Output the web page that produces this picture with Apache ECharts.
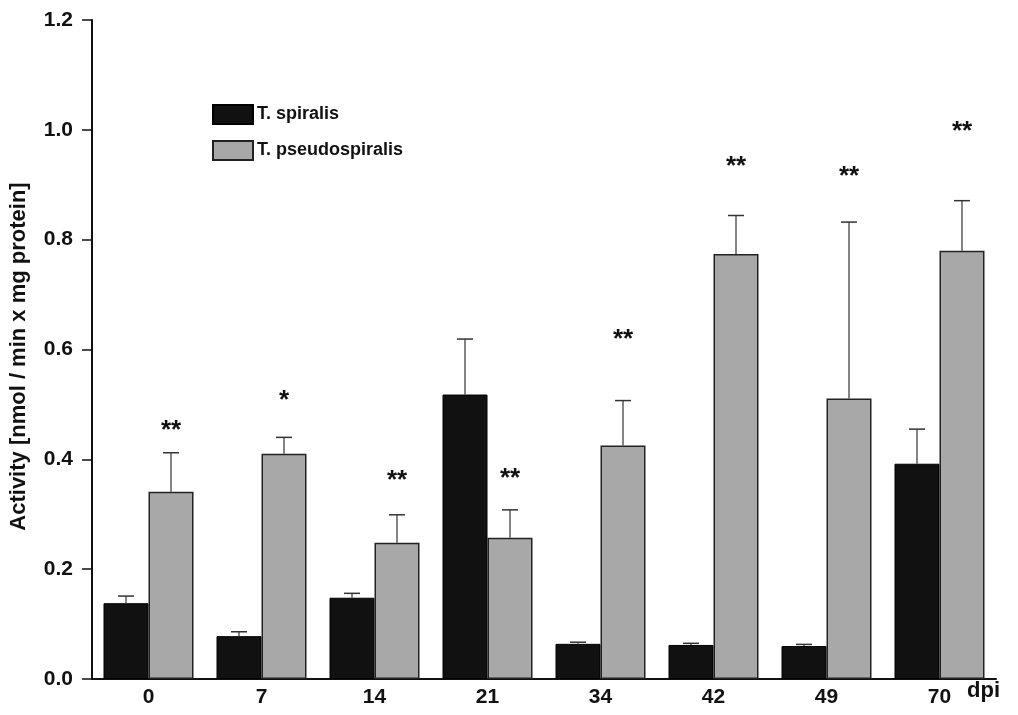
<!DOCTYPE html>
<html>
<head>
<meta charset="utf-8">
<script src="https://cdn.jsdelivr.net/npm/echarts@6/dist/echarts.min.js"></script>
<style>html,body{margin:0;padding:0;background:#fff}#c{width:1018px;height:715px}</style>
</head>
<body>
<div id="c"></div>
<script>
var categories = ['0', '7', '14', '21', '34', '42', '49', '70'];
var spiralis = [0.138, 0.078, 0.148, 0.518, 0.064, 0.062, 0.060, 0.392];
var spiralisErr = [0.013, 0.008, 0.008, 0.101, 0.003, 0.003, 0.003, 0.063];
var pseudo = [0.341, 0.410, 0.248, 0.257, 0.425, 0.774, 0.511, 0.780];
var pseudoErr = [0.071, 0.030, 0.051, 0.051, 0.082, 0.070, 0.321, 0.091];
var starText = ['**', '*', '**', '**', '**', '**', '**', '**'];
var starLevel = [0.464, 0.520, 0.373, 0.377, 0.630, 0.946, 0.928, 1.009];
var yTicks = [0, 0.2, 0.4, 0.6, 0.8, 1.0, 1.2];

var FONT = 'Liberation Sans, Arial, sans-serif';
var BAR_W = 45;

function errData(vals, errs) {
  return vals.map(function (v, i) { return [i, v, v + errs[i]]; });
}
function errRender(offset) {
  return function (params, api) {
    var x = api.value(0);
    var lo = api.coord([x, api.value(1)]);
    var hi = api.coord([x, api.value(2)]);
    var cx = lo[0] + offset;
    var cap = 8;
    return {
      type: 'group',
      children: [
        { type: 'line', shape: { x1: cx, y1: lo[1], x2: cx, y2: hi[1] }, style: { stroke: '#333', lineWidth: 1.2 } },
        { type: 'line', shape: { x1: cx - cap, y1: hi[1], x2: cx + cap, y2: hi[1] }, style: { stroke: '#333', lineWidth: 1.5 } }
      ]
    };
  };
}

var chart = echarts.init(document.getElementById('c'), null, { renderer: 'canvas' });
chart.setOption({
  backgroundColor: '#ffffff',
  animation: false,
  grid: { left: 92, right: 22, top: 20, bottom: 36 },
  legend: {
    orient: 'vertical',
    left: 207, top: 99,
    icon: 'rect',
    itemWidth: 40, itemHeight: 19, itemGap: 15,
    textStyle: { fontFamily: FONT, fontWeight: 'bold', fontSize: 18, color: '#111', padding: [0, 0, 0, -1] },
    data: ['T. spiralis', 'T. pseudospiralis']
  },
  xAxis: {
    type: 'category',
    data: categories,
    axisLine: { lineStyle: { color: '#111', width: 2 } },
    axisTick: { show: false },
    axisLabel: { margin: 8, fontFamily: FONT, fontWeight: 'bold', fontSize: 21, color: '#111' }
  },
  yAxis: {
    type: 'value',
    min: 0, max: 1.2, interval: 0.2,
    name: 'Activity [nmol / min x mg protein]',
    nameLocation: 'middle',
    nameGap: 62,
    nameTextStyle: { fontFamily: FONT, fontWeight: 'bold', fontSize: 22, color: '#111', padding: [0, 14, 0, 0] },
    axisLine: { show: true, lineStyle: { color: '#111', width: 2 } },
    axisTick: { show: true, length: 10, lineStyle: { color: '#111', width: 1.5 } },
    splitLine: { show: false },
    axisLabel: {
      margin: 19, fontFamily: FONT, fontWeight: 'bold', fontSize: 21, color: '#111',
      formatter: function (v) { return v.toFixed(1); }
    }
  },
  graphic: [
    { type: 'text', left: 967, top: 680, style: { text: 'dpi', fontFamily: FONT, fontWeight: 'bold', fontSize: 22, fill: '#111' } }
  ],
  series: [
    {
      name: 'T. spiralis', type: 'bar', data: spiralis, barWidth: BAR_W, barGap: '0%',
      itemStyle: { color: '#111111', borderColor: '#000', borderWidth: 1 }
    },
    {
      name: 'T. pseudospiralis', type: 'bar', data: pseudo, barWidth: BAR_W, barGap: '0%',
      itemStyle: { color: '#a8a8a8', borderColor: '#222', borderWidth: 1.5 }
    },
    { type: 'custom', renderItem: errRender(-BAR_W / 2), data: errData(spiralis, spiralisErr), z: 3, silent: true },
    { type: 'custom', renderItem: errRender(BAR_W / 2), data: errData(pseudo, pseudoErr), z: 3, silent: true },
    {
      type: 'custom', z: 4, silent: true,
      data: starLevel.map(function (v, i) { return [i, v]; }),
      renderItem: function (params, api) {
        var p = api.coord([api.value(0), api.value(1)]);
        return {
          type: 'text',
          style: {
            text: starText[params.dataIndex], x: p[0] + BAR_W / 2, y: p[1] + 7,
            textAlign: 'center', textVerticalAlign: 'middle',
            fontFamily: FONT, fontWeight: 'bold', fontSize: 26, fill: '#111'
          }
        };
      }
    }
  ]
});
</script>
</body>
</html>
